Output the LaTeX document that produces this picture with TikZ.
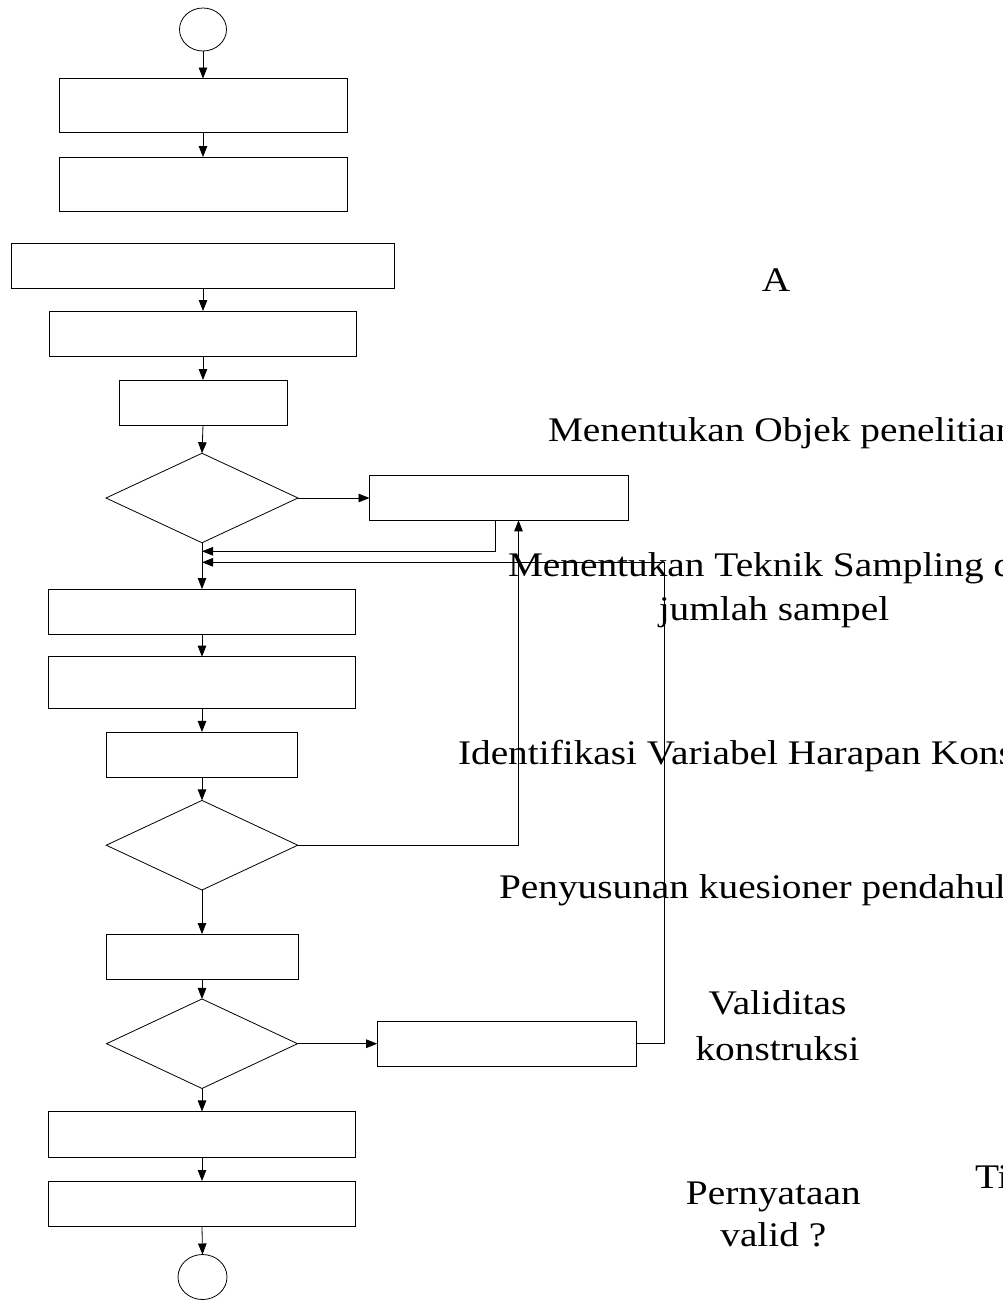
\documentclass[tikz,border=0pt]{standalone}
\usepackage{fontspec}
\newfontfamily\lblfont[FakeStretch=1.14]{Liberation Serif}
\usetikzlibrary{arrows.meta,shapes.geometric}

\begin{document}
\begin{tikzpicture}[x=1pt,y=-1pt,
  every node/.style={inner sep=0pt, outer sep=0pt},
  proc/.style={draw, rectangle, line width=0.9pt},
  decision/.style={draw, diamond, line width=0.8pt},
  terminal/.style={draw, ellipse, line width=0.8pt},
  flow/.style={-{Triangle[length=11pt,width=8.5pt]}, line width=0.8pt},
  lbl/.style={font=\lblfont\fontsize{34.5}{44}\selectfont}]

\useasboundingbox (0,0) rectangle (1003,1301);

% main column
\node[terminal, minimum width=47pt, minimum height=43pt] (start) at (203,29.5) {};
\node[proc, minimum width=288pt, minimum height=54pt] (b1) at (203,105.5) {};
\node[proc, minimum width=288pt, minimum height=54pt] (b2) at (203,184) {};
\node[proc, minimum width=383pt, minimum height=45pt] (b3) at (203,265.5) {};
\node[proc, minimum width=307pt, minimum height=45pt] (b4) at (203,333.5) {};
\node[proc, minimum width=168pt, minimum height=45pt] (b5) at (203,402.5) {};
\node[decision, minimum width=192pt, minimum height=89.5pt] (d1) at (202,498) {};
\node[proc, minimum width=259pt, minimum height=44.6pt] (b6) at (499,498) {};
\node[proc, minimum width=307pt, minimum height=45.3pt] (b7) at (202,611.7) {};
\node[proc, minimum width=307pt, minimum height=51.6pt] (b8) at (202,682.5) {};
\node[proc, minimum width=191.5pt, minimum height=45.5pt] (b9) at (202,754.7) {};
\node[decision, minimum width=191.5pt, minimum height=89.6pt] (d2) at (202,845.2) {};
\node[proc, minimum width=192pt, minimum height=45.3pt] (b10) at (202,956.7) {};
\node[decision, minimum width=191pt, minimum height=89.5pt] (d3) at (202,1043.7) {};
\node[proc, minimum width=259pt, minimum height=45.2pt] (b11) at (506.7,1043.7) {};
\node[proc, minimum width=306.5pt, minimum height=45.5pt] (b12) at (202,1134.2) {};
\node[proc, minimum width=306.5pt, minimum height=45pt] (b13) at (202,1203.5) {};
\node[terminal, minimum width=49pt, minimum height=45pt] (stop) at (202.5,1277) {};

% junction points on the main column and the return path
\coordinate (j1) at (202,551.3);
\coordinate (j2) at (202,562.3);
\coordinate (r1) at (664.7,562.3);

% straight flow
\draw[flow] (start.south) -- (b1.north);
\draw[flow] (b1.south) -- (b2.north);
\draw[flow] (b3.south) -- (b4.north);
\draw[flow] (b4.south) -- (b5.north);
\draw[flow] (b5.south) -- (d1.north);
\draw[flow] (d1.south) -- (b7.north);
\draw[flow] (b7.south) -- (b8.north);
\draw[flow] (b8.south) -- (b9.north);
\draw[flow] (b9.south) -- (d2.north);
\draw[flow] (d2.south) -- (b10.north);
\draw[flow] (b10.south) -- (d3.north);
\draw[flow] (d3.south) -- (b12.north);
\draw[flow] (b12.south) -- (b13.north);
\draw[flow] (b13.south) -- (stop.north);

% branches and returns
\draw[flow] (d1.east) -- (b6.west);
\draw[flow] ([xshift=-3.2pt]b6.south) |- (j1);
\draw[flow] (d2.east) -| ([xshift=19.5pt]b6.south);
\draw[flow] (d3.east) -- (b11.west);
\draw[flow] (b11.east) -| (r1) -- (j2);

% labels
\begin{scope}
\clip (0,0) rectangle (1003,1301);
\node[lbl, anchor=base] (tA) at (776,291.7) {A};
\node[lbl, anchor=base west] (tObjek) at (548,441) {Menentukan Objek penelitian};
\node[lbl, anchor=base west] (tTeknik) at (508,576.7) {Menentukan Teknik Sampling dan};
\node[lbl, anchor=base] (tJumlah) at (774,620) {jumlah sampel};
\node[lbl, anchor=base west] (tIdent) at (458,764) {Identifikasi Variabel Harapan Konsumen};
\node[lbl, anchor=base west] (tSusun) at (499,898.8) {Penyusunan kuesioner pendahuluan};
\node[lbl, anchor=base] (tValid) at (777.5,1014.3) {Validitas};
\node[lbl, anchor=base] (tKons) at (777.5,1060) {konstruksi};
\node[lbl, anchor=base] (tPern) at (773.3,1204) {Pernyataan};
\node[lbl, anchor=base] (tValq) at (773.3,1246) {valid ?};
\node[lbl, anchor=base west] (tTidak) at (975,1188.3) {Tidak};
\end{scope}

\end{tikzpicture}
\end{document}
